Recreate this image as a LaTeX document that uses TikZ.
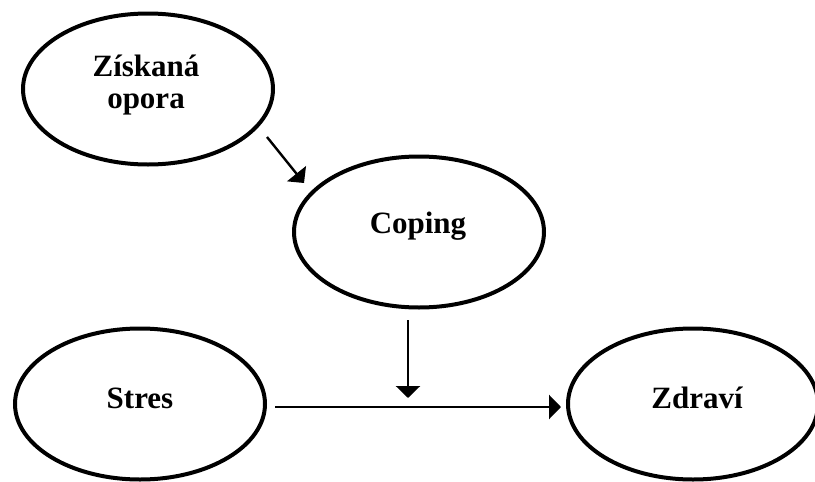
\documentclass[tikz,border=0pt]{standalone}
\usepackage{fontspec}
\setmainfont{Liberation Serif}
\usetikzlibrary{shapes.geometric,arrows.meta}
\begin{document}
\begin{tikzpicture}[x=1pt,y=-1pt,
  oval/.style={ellipse,draw,line width=4pt,inner sep=0pt,
               minimum width=250pt,minimum height=151pt},
  lbl/.style={font=\fontsize{31}{32}\selectfont\bfseries,anchor=base,
              align=center,inner sep=0pt},
  link/.style={line width=2.4pt,-{Triangle[width=24pt,length=12pt]}}]
  \useasboundingbox (0,0) rectangle (815,482);

  % the four variables
  \node[oval] (opora)  at (148,89)  {};
  \node[oval] (coping) at (419,232) {};
  \node[oval] (stres)  at (140,404) {};
  \node[oval] (zdravi) at (693,404) {};

  % labels, placed by the baseline of their last line
  \node[lbl] (opora-t)  at (146,108) {Získaná\\opora};
  \node[lbl] (coping-t) at (418,233) {Coping};
  \node[lbl] (stres-t)  at (140,408) {Stres};
  \node[lbl] (zdravi-t) at (697,408) {Zdraví};

  % connector end points
  \coordinate (a1) at (267,137);
  \coordinate (a2) at (304,183);
  \coordinate (m1) at (408,320);
  \coordinate (m2) at (408,398);
  \coordinate (h1) at (275,407);
  \coordinate (h2) at (561,407);

  \draw[link] (a1) -- (a2);
  \draw[link] (m1) -- (m2);
  \draw[link] (h1) -- (h2);
\end{tikzpicture}
\end{document}
